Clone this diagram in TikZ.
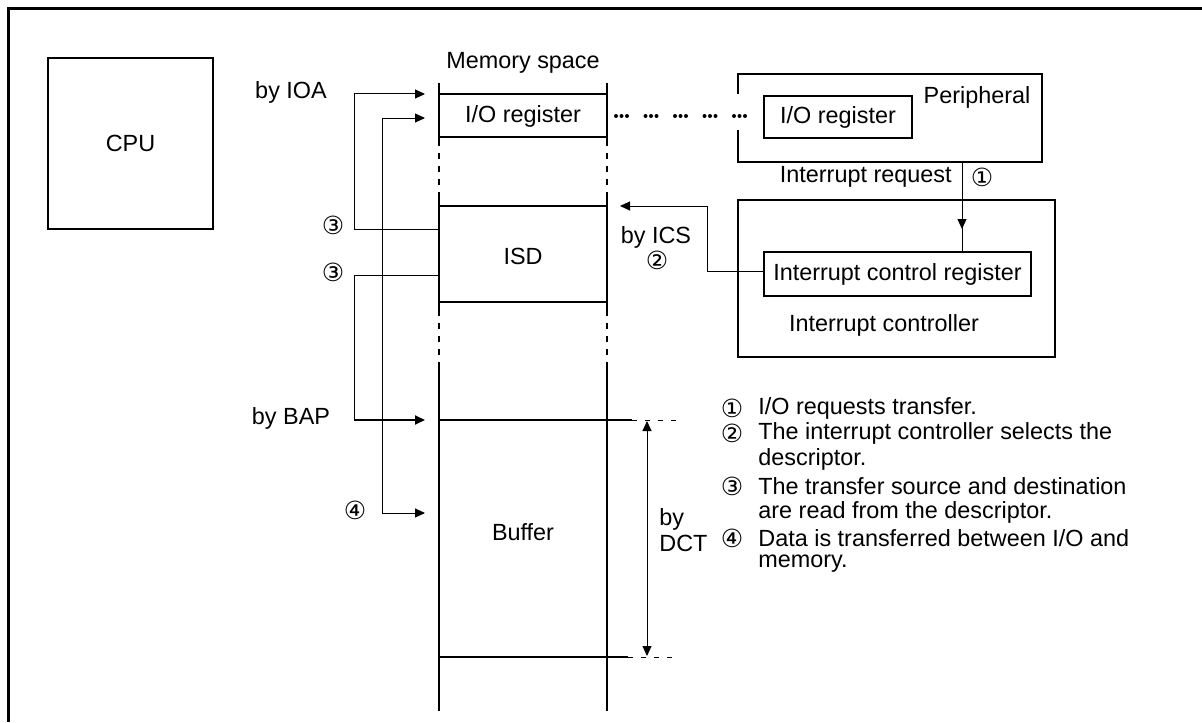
\documentclass[tikz,border=0pt]{standalone}
\usepackage{fontspec}
\setmainfont{Liberation Sans}
\newfontfamily\symf{DejaVu Sans}
\usetikzlibrary{arrows.meta}
\begin{document}
\begin{tikzpicture}[x=0.5pt,y=-0.5pt,
  lbl/.style={inner sep=0pt, font=\fontsize{11.7}{13}\selectfont},
  num/.style={inner sep=0pt, font=\symf\fontsize{12.5}{13}\selectfont},
  box/.style={draw, line width=1pt, inner sep=0pt, font=\fontsize{11.7}{13}\selectfont},
  memline/.style={line width=1pt},
  memdash/.style={line width=1pt, dash pattern=on 3pt off 3.5pt},
  conn/.style={line width=0.5pt},
  tip/.style={-{Triangle[length=5pt,width=4.5pt]}},
  tips/.style={{Triangle[length=5pt,width=4.5pt]}-{Triangle[length=5pt,width=4.5pt]}},
]
\useasboundingbox (0,0) rectangle (1202,722);
% outer frame
\draw[line width=1.5pt] (8,722) -- (8,9) -- (1202,9);

% CPU
\node[box, minimum width=82.5pt, minimum height=85.5pt] (cpu) at (130.5,143.5) {CPU};

% memory column
\node[lbl] (memtitle) at (523,63) {Memory space};
\foreach \xx in {439,607}{
  \draw[memline] (\xx,83) -- (\xx,140);
  \draw[memdash] (\xx,140) -- (\xx,193);
  \draw[memline] (\xx,193) -- (\xx,310);
  \draw[memdash] (\xx,310) -- (\xx,363);
  \draw[memline] (\xx,363) -- (\xx,711);
}
\foreach \yy in {94,137,206,302}{
  \draw[memline] (439,\yy) -- (607,\yy);
}
\draw[memline] (439,420) -- (632,420);
\draw[line width=0.5pt, dash pattern=on 2.5pt off 4pt] (632,420) -- (677,420);
\draw[memline] (439,657) -- (628,657);
\draw[line width=0.5pt, dash pattern=on 2.5pt off 4pt] (628,657) -- (677,657);
\node[lbl] (memio) at (523,116) {I/O register};
\node[lbl] (isd) at (523,256) {ISD};
\node[lbl] (buffer) at (523,532) {Buffer};

% dotted link
\foreach \g in {0,...,4}{
  \foreach \k in {0,5.5,11}{
    \fill (616+\g*29.5+\k,116) circle[radius=1pt];
  }
}

% peripheral
\draw[line width=1pt] (738,94) -- (738,74) -- (1042,74) -- (1042,162) -- (738,162) -- (738,130);
\node[box, minimum width=74pt, minimum height=21pt] (perio) at (838,117) {I/O register};
\node[lbl] (periph) at (977,97) {Peripheral};

% interrupt controller
\draw[line width=1pt] (738,200) rectangle (1055,357);
\node[box, minimum width=133.5pt, minimum height=22pt] (icr) at (897.5,274) {Interrupt control register};
\node[lbl] (ictl) at (884,325) {Interrupt controller};

% interrupt request
\coordinate (irtop) at (962,162);
\coordinate (irtip) at (962,229);
\draw[conn] (irtop) -- (icr.north -| irtop);
\draw[conn, tip] (irtop) -- (irtip);
\node[lbl, anchor=east] (irq) at (952,177) {Interrupt request};
\node[num] (n1a) at (982,177) {①};

% by ICS
\coordinate (icsend) at (620,206);
\draw[conn, tip] (icr.west |- 0,271) -- (707,271) -- (707,206) -- (icsend);
\node[lbl] (byics) at (656,237) {by ICS};
\node[num] (n2a) at (657,260) {②};

% left connectors
\draw[conn, tip] (439,229) -- (354,229) -- (354,94) -- (425,94);
\draw[conn] (439,275) -- (354,275) -- (354,420);
\draw[line width=1pt, tip] (354,420) -- (425,420);
\draw[conn, tips] (425,118) -- (382,118) -- (382,513) -- (425,513);
\node[lbl] (byioa) at (291,92) {by IOA};
\node[lbl] (bybap) at (291,418) {by BAP};
\node[num] (n3a) at (333,225) {③};
\node[num] (n3b) at (333,272) {③};
\node[num] (n4a) at (355,510) {④};

% by DCT
\draw[conn, tips] (647,421) -- (647,656);
\node[lbl, anchor=west, align=left] (bydct) at (659,530) {by\\DCT};

% legend
\node[num] (l1n) at (732,408) {①};
\node[num] (l2n) at (732,433) {②};
\node[num] (l3n) at (732,486) {③};
\node[num] (l4n) at (732,538) {④};
\node[lbl, anchor=west] (l1) at (758,408) {I/O requests transfer.};
\node[lbl, anchor=west] (l2) at (758,433) {The interrupt controller selects the};
\node[lbl, anchor=west] (l2b) at (758,459) {descriptor.};
\node[lbl, anchor=west] (l3) at (758,486) {The transfer source and destination};
\node[lbl, anchor=west] (l3b) at (758,512) {are read from the descriptor.};
\node[lbl, anchor=west] (l4) at (758,538) {Data is transferred between I/O and};
\node[lbl, anchor=west] (l4b) at (758,564) {memory.};
\end{tikzpicture}
\end{document}
